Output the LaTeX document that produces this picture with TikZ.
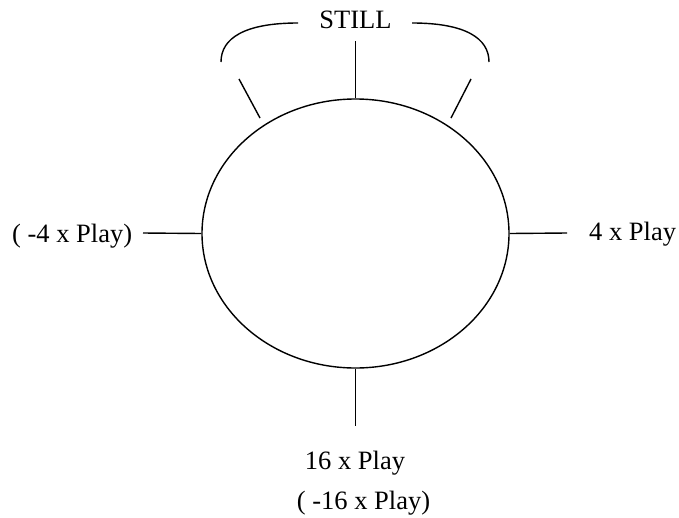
\documentclass[tikz,border=0pt]{standalone}
\usepackage{fontspec}
\setmainfont{Liberation Serif}
\usetikzlibrary{shapes.geometric}
\begin{document}
\begin{tikzpicture}[x=1pt,y=-1pt,
  ln/.style={line width=1.4pt},
  lbl/.style={inner sep=0pt,font=\fontsize{26.5}{30}\selectfont}]
\useasboundingbox (0,0) rectangle (679,517);
\node[ellipse,draw,ln,minimum width=307pt,minimum height=269pt,inner sep=0pt] (E) at (355.5,233.5) {};
\coordinate (T) at (355.5,41);
\coordinate (B) at (355.5,426);
\coordinate (L) at (143,233);
\coordinate (R) at (567,233);
\draw[ln] (E.north) -- (T);
\draw[ln] (E.south) -- (B);
\draw[ln] (E.west) -- (L);
\draw[ln] (E.east) -- (R);
\coordinate (la) at (239,79);
\coordinate (lb) at (260,118);
\coordinate (ra) at (471,79);
\coordinate (rb) at (451,118);
\draw[ln] (la) -- (lb);
\draw[ln] (ra) -- (rb);
\node[lbl,anchor=base] (still) at (355.5,28.3) {STILL};
\coordinate (bl1) at (298,23);
\coordinate (bl2) at (221,62);
\coordinate (br1) at (412,23);
\coordinate (br2) at (489,62);
\draw[ln] (bl1) .. controls (245,23) and (221,38) .. (bl2);
\draw[ln] (br1) .. controls (465,23) and (489,38) .. (br2);
\node[lbl,anchor=base west] (lt) at (12,242.5) {( -4 x Play)};
\node[lbl,anchor=base west] (rt) at (589,240.5) {4 x Play};
\node[lbl,anchor=base] (b1) at (355,469) {16 x Play};
\node[lbl,anchor=base] (b2) at (363.5,509) {( -16 x Play)};
\end{tikzpicture}
\end{document}
